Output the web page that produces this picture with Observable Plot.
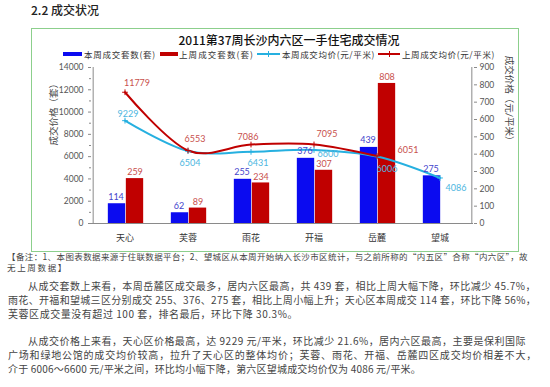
<!DOCTYPE html>
<html><head><meta charset="utf-8">
<script src="https://cdn.jsdelivr.net/npm/d3@7"></script>
<script src="https://cdn.jsdelivr.net/npm/@observablehq/plot@0.6"></script>
<style>
body{margin:0;width:550px;height:387px;position:relative;overflow:hidden;background:#fff;font-family:"Noto Sans CJK SC",sans-serif;color:#333}
.abs{position:absolute;white-space:nowrap}
#box{position:absolute;left:31px;top:28px;width:488px;height:224px;box-sizing:border-box;border:1.5px solid #8ccf8c}
.txt{position:absolute;white-space:nowrap;font-size:10px;line-height:12px;color:#444}
.leg{position:absolute;top:48px;font-size:8.5px;line-height:12px;color:#333;white-space:nowrap}
.sw{position:absolute}
#chart{position:absolute;left:31px;top:58px}
</style></head><body>
<div class="abs" style="left:31px;top:3px;font-size:12px;line-height:14px;font-weight:500;color:#222">2.2 成交状况</div>
<div id="box"></div>
<div class="abs" style="left:289px;top:33px;transform:translateX(-50%);font-size:12px;line-height:14px;font-weight:500;color:#111">2011第37周长沙内六区一手住宅成交情况</div>
<div id="legend"></div>
<div id="chart"></div>
<div id="notes"></div>
<script>
// ---- data ----
const categories = ["天心", "芙蓉", "雨花", "开福", "岳麓", "望城"];
const unitsThisWeek = [114, 62, 255, 376, 439, 275];
const unitsLastWeek = [259, 89, 234, 307, 808, null];
const priceThisWeek = [9229, 6504, 6431, 6600, 6006, 4086];
const priceLastWeek = [11779, 6553, 7086, 7095, 6051, null];
const leftTicks = [0, 2000, 4000, 6000, 8000, 10000, 12000, 14000];
const leftMinorTicks = [1000, 3000, 5000, 7000, 9000, 11000, 13000];
const rightTicks = [0, 100, 200, 300, 400, 500, 600, 700, 800, 900];
const seriesNames = ["本周成交套数(套)", "上周成交套数(套)", "本周成交均价(元/平米)", "上周成交均价(元/平米)"];
const leftAxisTitle = "成交价格（套）";
const rightAxisTitle = "成交价格（元/平米）";

// ---- styles / layout (not data) ----
const C = {blue:"#0b0bf0", red:"#c00000", cyan:"#26b0e0", blueTxt:"#4444cc", redTxt:"#c8504d", cyanTxt:"#4db6e0", axis:"#8a8a8a"};
const cyanLabelOffsets = [[3,-7],[2,12],[7,11],[14,4],[10,13],[16,10]];
const redLabelOffsets = [[12,-9],[7,-11],[-3,-7],[13,-10],[31,-6]];

const W = 488, H = 192, ML = 60, MR = 46, MT = 9, MB = 27;
const bw = (W - ML - MR) / categories.length;
const rightMax = 900, leftMax = 14000, k = leftMax / rightMax;

const rows = categories.map((c, i) => ({cat: c, uThis: unitsThisWeek[i], uLast: unitsLastWeek[i], pThis: priceThisWeek[i], pLast: priceLastWeek[i], i}));
const rowsULast = rows.filter(d => d.uLast != null);
const rowsPLast = rows.filter(d => d.pLast != null);

const marks = [
  Plot.barY(rows, {x: "cat", y: d => d.uThis * k, fill: C.blue, insetLeft: bw/2 - 17, insetRight: bw/2 - 1}),
  Plot.barY(rowsULast, {x: "cat", y: d => d.uLast * k, fill: C.red, insetLeft: bw/2 + 1, insetRight: bw/2 - 19}),
  Plot.ruleY([0], {stroke: C.axis}),
  Plot.ruleX([categories[0]], {dx: -bw/2, stroke: C.axis}),
  Plot.ruleX([categories[categories.length-1]], {dx: bw/2, stroke: C.axis}),
  Plot.axisY(leftTicks, {anchor: "left", tickSize: 3, tickPadding: 5, tickFormat: d => String(d), label: null, fontSize: 8.5, color: "#555", stroke: C.axis}),
  Plot.axisY(leftMinorTicks, {anchor: "left", tickSize: 2, tickFormat: () => "", label: null, stroke: C.axis}),
  Plot.axisY(rightTicks.map(v => v * k), {anchor: "right", tickSize: 3, tickPadding: 3, tickFormat: d => String(Math.round(d / k)), label: null, fontSize: 8.5, color: "#555", stroke: C.axis}),
  Plot.axisX({tickSize: 0, tickPadding: 11, label: null, fontSize: 9, color: "#333"}),
  Plot.text([leftAxisTitle], {text: d => d, frameAnchor: "left", dx: -38, rotate: -90, fontSize: 9.5, fill: "#444"}),
  Plot.text([rightAxisTitle], {text: d => d, frameAnchor: "right", dx: 36, rotate: 90, fontSize: 9.5, fill: "#444"}),
  Plot.line(rows, {x: "cat", y: "pThis", stroke: C.cyan, strokeWidth: 2, curve: "cardinal", tension: 0}),
  Plot.line(rowsPLast, {x: "cat", y: "pLast", stroke: C.red, strokeWidth: 2, curve: "cardinal", tension: 0}),
  Plot.dot(rows, {x: "cat", y: "pThis", symbol: "plus", r: 2, stroke: C.cyan, strokeWidth: 1}),
  Plot.dot(rowsPLast, {x: "cat", y: "pLast", symbol: "plus", r: 2, stroke: C.red, strokeWidth: 1}),
  Plot.text(rows, {x: "cat", y: d => d.uThis * k, text: d => String(d.uThis), dx: -9, dy: -7, fill: C.blueTxt, fontSize: 9}),
  Plot.text(rowsULast, {x: "cat", y: d => d.uLast * k, text: d => String(d.uLast), dx: 10, dy: -6, fill: C.redTxt, fontSize: 9}),
  ...rows.map((d, i) => Plot.text([d], {x: "cat", y: "pThis", text: r => String(r.pThis), dx: cyanLabelOffsets[i][0], dy: cyanLabelOffsets[i][1], fill: C.cyanTxt, fontSize: 9})),
  ...rowsPLast.map((d, i) => Plot.text([d], {x: "cat", y: "pLast", text: r => String(r.pLast), dx: redLabelOffsets[i][0], dy: redLabelOffsets[i][1], fill: C.redTxt, fontSize: 9}))
];

const chart = Plot.plot({
  width: W, height: H, marginLeft: ML, marginRight: MR, marginTop: MT, marginBottom: MB,
  style: {fontFamily: "Lato, 'Noto Sans CJK SC', sans-serif", fontSize: "9px", background: "transparent", overflow: "visible"},
  x: {type: "band", domain: categories, padding: 0},
  y: {domain: [0, leftMax]},
  marks
});
document.getElementById("chart").appendChild(chart);

// ---- legend ----
const legend = document.getElementById("legend");
const legendItems = [
  {sw: {left: 63, top: 52, width: 19, height: 4, background: C.blue}, text: seriesNames[0], left: 84, w: 72},
  {sw: {left: 160, top: 52, width: 18, height: 4, background: C.red}, text: seriesNames[1], left: 179, w: 75},
  {sw: {left: 257, top: 53, width: 23, height: 2, background: C.cyan}, mark: C.cyan, text: seriesNames[2], left: 282, w: 93},
  {sw: {left: 378, top: 53, width: 22, height: 2, background: C.red}, mark: C.red, text: seriesNames[3], left: 402, w: 93}
];
legendItems.forEach(it => {
  const s = document.createElement("div");
  s.className = "sw";
  Object.entries(it.sw).forEach(([key, v]) => s.style[key] = typeof v === "number" ? v + "px" : v);
  legend.appendChild(s);
  if (it.mark) {
    const m = document.createElement("div");
    m.className = "sw";
    Object.assign(m.style, {left: (it.sw.left + it.sw.width/2 - 0.5) + "px", top: "51px", width: "1px", height: "6px", background: it.mark});
    legend.appendChild(m);
  }
  const t = document.createElement("div");
  t.className = "leg";
  t.style.left = it.left + "px";
  t.dataset.w = it.w;
  t.textContent = it.text;
  legend.appendChild(t);
});

// ---- notes & paragraphs ----
const noteLines = [
  "【备注：1、本图表数据来源于住联数据平台；2、望城区从本周开始纳入长沙市区统计，与之前所称的“内五区”合称“内六区”，故",
  "无上周数据】"
];
const para1 = [
  "从成交套数上来看，本周岳麓区成交最多，居内六区最高，共 439 套，相比上周大幅下降，环比减少 45.7%，",
  "雨花、开福和望城三区分别成交 255、376、275 套，相比上周小幅上升；天心区本周成交 114 套，环比下降 56%，",
  "芙蓉区成交量没有超过 100 套，排名最后，环比下降 30.3%。"
];
const para2 = [
  "从成交价格上来看，天心区价格最高，达 9229 元/平米，环比减少 21.6%，居内六区最高，主要是保利国际",
  "广场和绿地公馆的成交均价较高，拉升了天心区的整体均价；芙蓉、雨花、开福、岳麓四区成交均价相差不大，",
  "介于 6006～6600 元/平米之间，环比均小幅下降，第六区望城成交均价仅为 4086 元/平米。"
];
const textLayout = [
  {t: noteLines[0], left: 7, cy: 256.5, w: 521, fs: 8.5, lh: 9},
  {t: noteLines[1], left: 7, cy: 267, w: 61, fs: 8.5, lh: 9},
  {t: para1[0], left: 28, cy: 286, w: 508},
  {t: para1[1], left: 8, cy: 300, w: 528},
  {t: para1[2], left: 8, cy: 314, w: 290},
  {t: para2[0], left: 28, cy: 341, w: 498},
  {t: para2[1], left: 8, cy: 355, w: 529},
  {t: para2[2], left: 8, cy: 369, w: 413}
];
const notes = document.getElementById("notes");
textLayout.forEach(l => {
  const d = document.createElement("div");
  d.className = "txt";
  const lh = l.lh || 12;
  if (l.fs) d.style.fontSize = l.fs + "px";
  d.style.lineHeight = lh + "px";
  d.style.left = l.left + "px";
  d.style.top = (l.cy - lh / 2) + "px";
  d.dataset.w = l.w;
  d.textContent = l.t;
  notes.appendChild(d);
});
// fit line widths
document.querySelectorAll("[data-w]").forEach(el => {
  const target = +el.dataset.w;
  const nat = el.getBoundingClientRect().width;
  const n = [...el.textContent].length;
  el.style.letterSpacing = ((target - nat) / n) + "px";
});
</script>
</body></html>
